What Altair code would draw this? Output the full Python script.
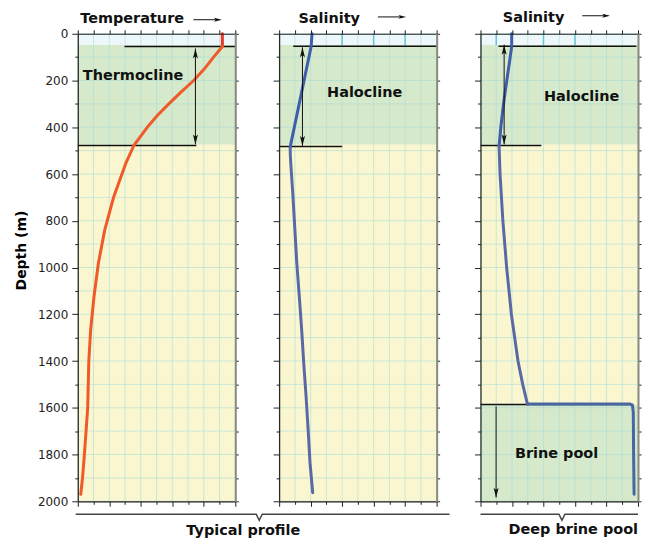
import altair as alt
import pandas as pd

FONT = "DejaVu Sans"
PANEL_W, PANEL_H = 158, 469

X_DOMAIN = [0, 10]
DEPTH_DOMAIN = [0, 2000]
GRID_X = list(range(0, 11))
GRID_DEPTH = list(range(0, 2001, 100))

# ---------------- zones ----------------
ZONE_NAMES = ["surface", "cline", "deep", "brine"]
ZONE_COLORS = ["#eef7fa", "#d6e9cb", "#faf7d0", "#d6e9cb"]

TYP_ZONE = ["surface", "cline", "deep"]
TYP_ZONE_TOP = [0, 48, 475]
TYP_ZONE_BOTTOM = [48, 475, 2000]

BRINE_ZONE = ["surface", "cline", "deep", "brine"]
BRINE_ZONE_TOP = [0, 48, 475, 1588]
BRINE_ZONE_BOTTOM = [48, 475, 1588, 2000]

# ---------------- profiles ----------------
TEMP_MIXED_DEPTH = [0, 55]
TEMP_MIXED_VALUE = [9.18, 9.18]
TEMP_DEPTH = [55, 60, 100, 150, 200, 250, 300, 350, 400, 450, 478, 556, 698,
              840, 981, 1124, 1264, 1400, 1600, 1800, 1900, 1970]
TEMP_VALUE = [9.18, 9.12, 8.62, 8.04, 7.36, 6.55, 5.78, 5.05, 4.41, 3.87, 3.56,
              3.04, 2.28, 1.71, 1.31, 1.03, 0.82, 0.70, 0.63, 0.42, 0.30, 0.19]

SAL_CLINE_DEPTH = [0, 55, 485]
SAL_CLINE_VALUE = [2.09, 2.03, 0.70]
SAL_DEEP_DEPTH = [485, 520, 556, 698, 840, 981, 1124, 1266, 1408, 1551, 1693, 1836, 1963]
SAL_DEEP_VALUE = [0.70, 0.71, 0.74, 0.88, 1.00, 1.12, 1.28, 1.43, 1.56, 1.71, 1.84, 1.96, 2.13]

BR_CLINE_DEPTH = [0, 55, 200, 300, 400, 480]
BR_CLINE_VALUE = [1.98, 1.98, 1.67, 1.46, 1.29, 1.18]
BR_DEEP_DEPTH = [480, 600, 800, 1000, 1200, 1400, 1500, 1584]
BR_DEEP_VALUE = [1.18, 1.24, 1.42, 1.66, 1.96, 2.38, 2.68, 2.98]
BR_POOL_DEPTH = [1584, 1584, 1590, 1620, 1800, 1970]
BR_POOL_VALUE = [2.98, 9.50, 9.65, 9.70, 9.72, 9.75]

# ---------------- annotations (data units) ----------------
P1_GUIDE_DEPTH = [55, 478]
P1_GUIDE_X0 = [2.97, 0]
P1_GUIDE_X1 = [10, 7.53]
P2_GUIDE_DEPTH = [53, 482]
P2_GUIDE_X0 = [0.89, 0]
P2_GUIDE_X1 = [10, 4.0]
P3_GUIDE_DEPTH = [53, 478, 1586]
P3_GUIDE_X0 = [1.14, 0, 0]
P3_GUIDE_X1 = [9.9, 3.86, 9.7]

P1_SHAFT_X = [7.47]; P1_SHAFT_D0 = [63]; P1_SHAFT_D1 = [473]
P2_SHAFT_X = [1.48]; P2_SHAFT_D0 = [58]; P2_SHAFT_D1 = [480]
P3_SHAFT_X = [1.50, 0.99]; P3_SHAFT_D0 = [47, 1594]; P3_SHAFT_D1 = [473, 1984]

P1_HEAD_X = [7.47, 7.47]; P1_HEAD_D = [84, 452]; P1_HEAD_DIR = ["up", "down"]
P2_HEAD_X = [1.48, 1.48]; P2_HEAD_D = [79, 459]; P2_HEAD_DIR = ["up", "down"]
P3_HEAD_X = [1.50, 1.50, 0.99]; P3_HEAD_D = [68, 452, 1963]; P3_HEAD_DIR = ["up", "down", "down"]

P1_LABEL = ["Thermocline"]; P1_LABEL_X = [3.51]; P1_LABEL_D = [198]
P2_LABEL = ["Halocline"]; P2_LABEL_X = [5.43]; P2_LABEL_D = [272]
P3_LABEL = ["Halocline", "Brine pool"]; P3_LABEL_X = [6.42, 4.83]; P3_LABEL_D = [286, 1814]

TITLES = ["Temperature", "Salinity", "Salinity"]
TITLE_X = [3.45, 3.18, 3.37]
TITLE_D = [-47, -44, -50]
TITLE_ARROW_X0 = [7.34, 6.27, 6.46]
TITLE_ARROW_X1 = [8.80, 7.75, 7.90]
TITLE_ARROW_HEAD_X = [8.90, 7.82, 7.98]
TITLE_ARROW_D = [-60, -72, -77]

SURFACE_TICKS_P2 = [4, 6, 8]
SURFACE_TICKS_P3 = [1, 4, 6]

BRACE1_X = [-0.13, 11.33, 11.52, 11.71, 23.6]
BRACE1_D = [2055, 2055, 2081, 2055, 2055]
BRACE1_TEXT = ["Typical profile"]; BRACE1_TEXT_X = [10.51]; BRACE1_TEXT_D = [2145]
BRACE3_X = [0, 4.98, 5.17, 5.36, 10.0]
BRACE3_D = [2055, 2055, 2081, 2055, 2055]
BRACE3_TEXT = ["Deep brine pool"]; BRACE3_TEXT_X = [5.89]; BRACE3_TEXT_D = [2140]

HEAD_PATHS = {
    "down": "M0,1L-0.5,-1L0,-0.55L0.5,-1Z",
    "up": "M0,-1L-0.5,1L0,0.55L0.5,1Z",
    "right": "M1,0L-1,-0.5L-0.55,0L-1,0.5Z",
}

GRID_COLOR = "#a9dcd9"
TEMP_COLORS = ["#e6392b", "#f05a28"]
SAL_COLORS = ["#3f5ea9", "#5a69a5", "#4a66a2"]

xs = alt.Scale(domain=X_DOMAIN, nice=False, zero=False)
ys = alt.Scale(domain=DEPTH_DOMAIN, reverse=True, nice=False, zero=False)


def X(field, axis=None):
    return alt.X(field, type="quantitative", scale=xs, axis=axis)


def Y(field, axis=None):
    return alt.Y(field, type="quantitative", scale=ys, axis=axis)


def major_minor(step, major, minor):
    return {"condition": {"test": f"datum.value % {step} === 0", "value": major}, "value": minor}


def axis_h(orient):
    size = major_minor(2, 5, 3) if orient == "bottom" else 4
    return alt.Axis(orient=orient, values=GRID_X, labels=False, title=None, grid=False,
                    tickSize=size, tickColor="#222", domainColor="#222", domainWidth=1.2, zindex=2)


def axis_left(with_labels):
    kw = dict(orient="left", values=GRID_DEPTH, grid=False, tickSize=major_minor(200, 6, 3),
              tickColor="#222", domainColor="#222", domainWidth=1.2, zindex=2)
    if with_labels:
        kw.update(labelExpr="datum.value % 200 == 0 ? datum.label : ''", format="d",
                  labelFont=FONT, labelFontSize=12, labelColor="#222", labelPadding=4,
                  labelOverlap=False,
                  title="Depth (m)", titleFont=FONT, titleFontSize=14, titleFontWeight="bold",
                  titleColor="#000", titlePadding=9, titleY=217)
    else:
        kw.update(labels=False, title=None)
    return alt.Axis(**kw)


def axis_right():
    return alt.Axis(orient="right", values=GRID_DEPTH, labels=False, title=None, grid=False,
                    tickSize=3, tickColor="#222", domainColor="#8a8a80", domainWidth=2, zindex=2)


def segs(parts):
    rows = []
    for name, depths, values in parts:
        for i, (d, v) in enumerate(zip(depths, values)):
            rows.append({"seg": name, "d": d, "v": v, "i": i})
    return pd.DataFrame(rows)


def make_panel(zone, ztop, zbot, profile, seg_colors, guides, shafts, heads, labels,
               title_idx, surface_ticks, left_labels, braces):
    zdf = pd.DataFrame({"zone": zone, "d0": ztop, "d1": zbot,
                        "x0": X_DOMAIN[0], "x1": X_DOMAIN[1]})
    layers = []
    layers.append(alt.Chart(zdf).mark_rect().encode(
        x=X("x0", axis_h("bottom")), x2="x1",
        y=Y("d0", axis_left(left_labels)), y2="d1",
        color=alt.Color("zone:N", scale=alt.Scale(domain=ZONE_NAMES, range=ZONE_COLORS), legend=None)))
    gx = pd.DataFrame({"g": GRID_X, "d0": DEPTH_DOMAIN[0], "d1": DEPTH_DOMAIN[1]})
    layers.append(alt.Chart(gx).mark_rule(color=GRID_COLOR, strokeWidth=1, opacity=0.6).encode(
        x=X("g"), y=Y("d0"), y2="d1"))
    gy = pd.DataFrame({"g": GRID_DEPTH, "x0": X_DOMAIN[0], "x1": X_DOMAIN[1]})
    layers.append(alt.Chart(gy).mark_rule(color=GRID_COLOR, strokeWidth=1, opacity=0.6).encode(
        y=Y("g"), x=X("x0"), x2="x1"))
    if surface_ticks:
        st = pd.DataFrame({"g": surface_ticks, "d0": ztop[0], "d1": zbot[0]})
        layers.append(alt.Chart(st).mark_rule(color="#62c6d8", strokeWidth=1.5).encode(
            x=X("g"), y=Y("d0"), y2="d1"))
    # guide lines
    gdf = pd.DataFrame({"d": guides[0], "x0": guides[1], "x1": guides[2]})
    layers.append(alt.Chart(gdf).mark_rule(color="#111", strokeWidth=1.5).encode(
        y=Y("d"), x=X("x0"), x2="x1"))
    # profile
    pdf = segs(profile)
    layers.append(alt.Chart(pdf).mark_line(strokeWidth=3, strokeCap="round", strokeJoin="round").encode(
        x=X("v"), y=Y("d"), order=alt.Order("i:Q"),
        color=alt.Color("seg:N", scale=alt.Scale(domain=[p[0] for p in profile], range=seg_colors),
                        legend=None)))
    # arrow shafts
    sdf = pd.DataFrame({"x": shafts[0], "d0": shafts[1], "d1": shafts[2]})
    layers.append(alt.Chart(sdf).mark_rule(color="#111", strokeWidth=1).encode(
        x=X("x"), y=Y("d0"), y2="d1"))
    hdf = pd.DataFrame({"x": heads[0], "d": heads[1], "shape": [HEAD_PATHS[h] for h in heads[2]]})
    layers.append(alt.Chart(hdf).mark_point(filled=True, color="#111", size=100, opacity=1).encode(
        x=X("x"), y=Y("d"), shape=alt.Shape("shape:N", scale=None)))
    # labels
    ldf = pd.DataFrame({"t": labels[0], "x": labels[1], "d": labels[2]})
    layers.append(alt.Chart(ldf).mark_text(font=FONT, fontSize=14.5, fontWeight="bold", color="#111",
                                           align="center", baseline="alphabetic").encode(
        x=X("x"), y=Y("d"), text="t:N"))
    # title
    k = title_idx
    tdf = pd.DataFrame({"t": [TITLES[k]], "x": [TITLE_X[k]], "d": [TITLE_D[k]]})
    layers.append(alt.Chart(tdf).mark_text(font=FONT, fontSize=14.5, fontWeight="bold", color="#111",
                                           align="center", baseline="alphabetic").encode(
        x=X("x"), y=Y("d"), text="t:N"))
    adf = pd.DataFrame({"x0": [TITLE_ARROW_X0[k]], "x1": [TITLE_ARROW_X1[k]], "d": [TITLE_ARROW_D[k]]})
    layers.append(alt.Chart(adf).mark_rule(color="#111", strokeWidth=1).encode(
        x=X("x0"), x2="x1", y=Y("d")))
    ahdf = pd.DataFrame({"x": [TITLE_ARROW_HEAD_X[k]], "d": [TITLE_ARROW_D[k]],
                         "shape": [HEAD_PATHS["right"]]})
    layers.append(alt.Chart(ahdf).mark_point(filled=True, color="#111", size=60, opacity=1).encode(
        x=X("x"), y=Y("d"), shape=alt.Shape("shape:N", scale=None)))
    # braces
    for bx, bd, bt, btx, btd in braces:
        bdf = pd.DataFrame({"x": bx, "d": bd, "i": list(range(len(bx)))})
        layers.append(alt.Chart(bdf).mark_line(color="#444", strokeWidth=1.5).encode(
            x=X("x"), y=Y("d"), order=alt.Order("i:Q")))
        btdf = pd.DataFrame({"t": bt, "x": btx, "d": btd})
        layers.append(alt.Chart(btdf).mark_text(font=FONT, fontSize=14.5, fontWeight="bold",
                                                color="#111", align="center",
                                                baseline="alphabetic").encode(
            x=X("x"), y=Y("d"), text="t:N"))
    # top/right axes
    layers.append(alt.Chart(zdf).mark_rect(opacity=0).encode(
        x=X("x0", axis_h("top")), x2="x1", y=Y("d0", axis_right()), y2="d1"))
    return (alt.layer(*layers)
            .resolve_scale(color="independent")
            .resolve_axis(x="independent", y="independent")
            .properties(width=PANEL_W, height=PANEL_H))


p1 = make_panel(
    TYP_ZONE, TYP_ZONE_TOP, TYP_ZONE_BOTTOM,
    [("mixed", TEMP_MIXED_DEPTH, TEMP_MIXED_VALUE), ("thermo", TEMP_DEPTH, TEMP_VALUE)],
    TEMP_COLORS,
    (P1_GUIDE_DEPTH, P1_GUIDE_X0, P1_GUIDE_X1),
    (P1_SHAFT_X, P1_SHAFT_D0, P1_SHAFT_D1),
    (P1_HEAD_X, P1_HEAD_D, P1_HEAD_DIR),
    (P1_LABEL, P1_LABEL_X, P1_LABEL_D),
    0, None, True,
    [(BRACE1_X, BRACE1_D, BRACE1_TEXT, BRACE1_TEXT_X, BRACE1_TEXT_D)])

p2 = make_panel(
    TYP_ZONE, TYP_ZONE_TOP, TYP_ZONE_BOTTOM,
    [("cline", SAL_CLINE_DEPTH, SAL_CLINE_VALUE), ("deep", SAL_DEEP_DEPTH, SAL_DEEP_VALUE)],
    SAL_COLORS[:2],
    (P2_GUIDE_DEPTH, P2_GUIDE_X0, P2_GUIDE_X1),
    (P2_SHAFT_X, P2_SHAFT_D0, P2_SHAFT_D1),
    (P2_HEAD_X, P2_HEAD_D, P2_HEAD_DIR),
    (P2_LABEL, P2_LABEL_X, P2_LABEL_D),
    1, SURFACE_TICKS_P2, False, [])

p3 = make_panel(
    BRINE_ZONE, BRINE_ZONE_TOP, BRINE_ZONE_BOTTOM,
    [("cline", BR_CLINE_DEPTH, BR_CLINE_VALUE), ("deep", BR_DEEP_DEPTH, BR_DEEP_VALUE),
     ("pool", BR_POOL_DEPTH, BR_POOL_VALUE)],
    SAL_COLORS,
    (P3_GUIDE_DEPTH, P3_GUIDE_X0, P3_GUIDE_X1),
    (P3_SHAFT_X, P3_SHAFT_D0, P3_SHAFT_D1),
    (P3_HEAD_X, P3_HEAD_D, P3_HEAD_DIR),
    (P3_LABEL, P3_LABEL_X, P3_LABEL_D),
    2, SURFACE_TICKS_P3, False,
    [(BRACE3_X, BRACE3_D, BRACE3_TEXT, BRACE3_TEXT_X, BRACE3_TEXT_D)])

chart = (alt.hconcat(p1, p2, p3, spacing=44, bounds="flush")
         .properties(padding={"left": 5, "top": 0, "right": 0, "bottom": 0})
         .configure_view(stroke=None)
         .configure(font=FONT))

chart.save("out.html", embed_options={"renderer": "svg", "actions": False})
